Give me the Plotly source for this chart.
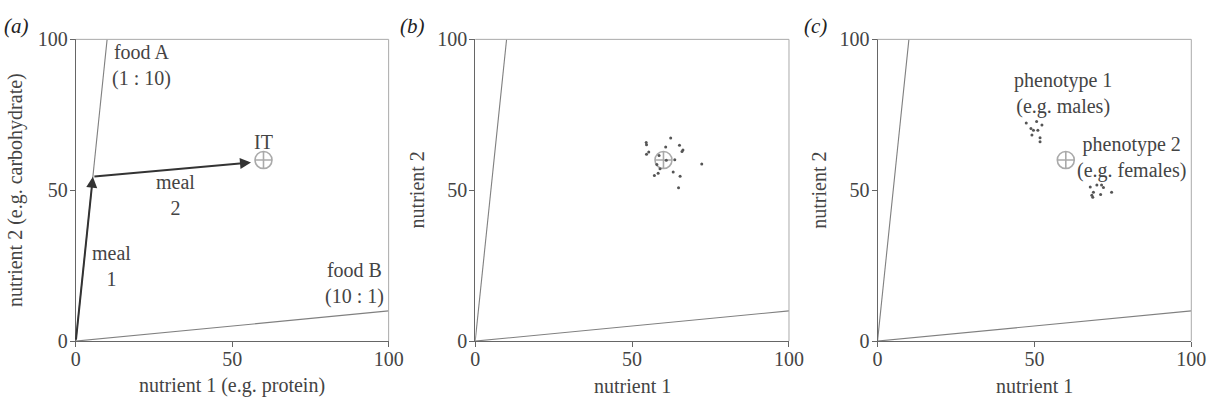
import plotly.graph_objects as go

# ---------------- data ----------------
food_a_x = [0, 10]
food_a_y = [0, 100]
food_b_x = [0, 100]
food_b_y = [0, 10]
it_x = [60]
it_y = [60]
meal_x = [0, 5.45, 56]
meal_y = [0, 54.5, 59.2]

b_x = [54.5, 54.6, 62.3, 65.1, 66.2, 65.9, 60.7, 55.3, 54.6, 58.6, 60.9, 63.6,
       57.9, 58.9, 58.3, 57.1, 63.1, 65.3, 72.2, 64.8]
b_y = [65.8, 65.1, 67.3, 64.9, 63.3, 62.8, 64.3, 62.7, 61.9, 61.5, 59.9, 60.1,
       58.5, 57.1, 55.6, 54.9, 56.0, 54.6, 58.7, 50.8]

p1_x = [47.4, 50.7, 52.4, 48.9, 49.7, 51.1, 49.2, 51.8, 51.8]
p1_y = [72.3, 72.8, 71.6, 70.5, 69.9, 69.9, 68.3, 67.4, 66.1]
p2_x = [67.8, 69.9, 71.4, 72.0, 68.8, 68.3, 71.1, 74.6, 68.6]
p2_y = [51.1, 51.7, 51.7, 50.9, 49.3, 48.3, 48.6, 49.3, 47.7]

tick_vals = [0, 50, 100]
tick_text = ["0", "50", "100"]
panel_labels = ["(a)", "(b)", "(c)"]
x_titles = ["nutrient 1 (e.g. protein)", "nutrient 1", "nutrient 1"]
y_titles = ["nutrient 2 (e.g. carbohydrate)", "nutrient 2", "nutrient 2"]

# ---------------- style ----------------
W, H = 1225, 406
FONT = "Liberation Serif"
FS = 20
TXT = "#444444"
LINE = "#808080"
DOT = "#555555"
IT_COL = "#aaaaaa"


def fx(p):
    return p / W


def fy(p):
    return 1 - p / H


px_dom = [(72, 390), (478, 797), (887, 1206)]
py_top, py_bot = 30, 349
ydom = [fy(py_bot), fy(py_top)]
ytitle_px = [10, 419, 828]
label_px = [12, 414, 824]

fig = go.Figure()

for i in range(3):
    xa = "x" if i == 0 else f"x{i+1}"
    ya = "y" if i == 0 else f"y{i+1}"
    fig.add_trace(go.Scatter(x=food_a_x, y=food_a_y, mode="lines",
                             line=dict(color=LINE, width=1.1), xaxis=xa, yaxis=ya,
                             showlegend=False, hoverinfo="skip"))
    fig.add_trace(go.Scatter(x=food_b_x, y=food_b_y, mode="lines",
                             line=dict(color=LINE, width=1.1), xaxis=xa, yaxis=ya,
                             showlegend=False, hoverinfo="skip"))
    fig.add_trace(go.Scatter(x=it_x, y=it_y, mode="markers",
                             marker=dict(symbol="circle-cross-open", size=17,
                                         color=IT_COL, line=dict(width=1.6, color=IT_COL)),
                             xaxis=xa, yaxis=ya, showlegend=False, hoverinfo="skip"))

for xs, ys, xa, ya in [(b_x, b_y, "x2", "y2"), (p1_x, p1_y, "x3", "y3"),
                       (p2_x, p2_y, "x3", "y3")]:
    fig.add_trace(go.Scatter(x=xs, y=ys, mode="markers",
                             marker=dict(size=3, color=DOT), xaxis=xa, yaxis=ya,
                             showlegend=False))

layout = dict(width=W, height=H, margin=dict(l=0, r=0, t=0, b=0),
              paper_bgcolor="white", plot_bgcolor="white",
              font=dict(family=FONT, size=FS, color=TXT))
shapes = []
annotations = []
for i in range(3):
    sfx = "" if i == 0 else str(i + 1)
    x0, x1 = px_dom[i]
    common = dict(range=[0, 100], tickvals=tick_vals, ticktext=tick_text,
                  ticks="outside", ticklen=5, tickcolor="#666666", showgrid=False,
                  zeroline=False, showline=True, linecolor="#666666", linewidth=1,
                  tickfont=dict(family=FONT, size=FS, color=TXT), fixedrange=True)
    layout["xaxis" + sfx] = dict(domain=[fx(x0), fx(x1)], anchor="y" + sfx,
                                 ticklabelstandoff=-5, **common)
    layout["yaxis" + sfx] = dict(domain=ydom, anchor="x" + sfx, ticklabelstandoff=-2,
                                 **common)
    # light frame top/right
    shapes.append(dict(type="line", xref=f"x{sfx} domain", yref=f"y{sfx} domain",
                       x0=0, x1=1, y0=1, y1=1, line=dict(color="#aaaaaa", width=1)))
    shapes.append(dict(type="line", xref=f"x{sfx} domain", yref=f"y{sfx} domain",
                       x0=1, x1=1, y0=0, y1=1, line=dict(color="#aaaaaa", width=1)))
    # axis titles
    annotations.append(dict(text=x_titles[i], xref="paper", yref="paper",
                            x=fx((x0 + x1) / 2), y=fy(396), showarrow=False,
                            xanchor="center", yanchor="middle",
                            font=dict(family=FONT, size=FS, color=TXT)))
    annotations.append(dict(text=y_titles[i], xref="paper", yref="paper",
                            x=fx(ytitle_px[i]), y=(ydom[0] + ydom[1]) / 2,
                            showarrow=False, textangle=-90, xanchor="center",
                            yanchor="middle",
                            font=dict(family=FONT, size=FS, color=TXT)))

# panel labels
for lab, px in zip(panel_labels, label_px):
    annotations.append(dict(text=f"<i>{lab}</i>", xref="paper", yref="paper",
                            x=fx(px), y=fy(16), showarrow=False,
                            xanchor="center", yanchor="middle",
                            font=dict(family=FONT, size=21, color="#222222")))


def txt(t, x, y, ax="x", ay="y"):
    annotations.append(dict(text=t, x=x, y=y, xref=ax, yref=ay, showarrow=False,
                            xanchor="center", yanchor="middle",
                            font=dict(family=FONT, size=FS, color=TXT)))


txt("food A<br>(1 : 10)", 21, 91.5)
txt("IT", 60, 66)
txt("meal<br>2", 32, 48.5)
txt("meal<br>1", 11.5, 25)
txt("food B<br>(10 : 1)", 89, 19)
txt("phenotype 1<br>(e.g. males)", 59, 82, "x3", "y3")
txt("phenotype 2<br>(e.g. females)", 81, 61, "x3", "y3")

# meal arrows
for k in range(len(meal_x) - 1):
    annotations.append(dict(x=meal_x[k + 1], y=meal_y[k + 1], ax=meal_x[k], ay=meal_y[k],
                            xref="x", yref="y", axref="x", ayref="y", text="",
                            showarrow=True, arrowhead=2, arrowsize=1.1, arrowwidth=2,
                            arrowcolor="#333333", standoff=0, startstandoff=0))

layout["shapes"] = shapes
layout["annotations"] = annotations
fig.update_layout(**layout)
fig.write_html("out.html")
